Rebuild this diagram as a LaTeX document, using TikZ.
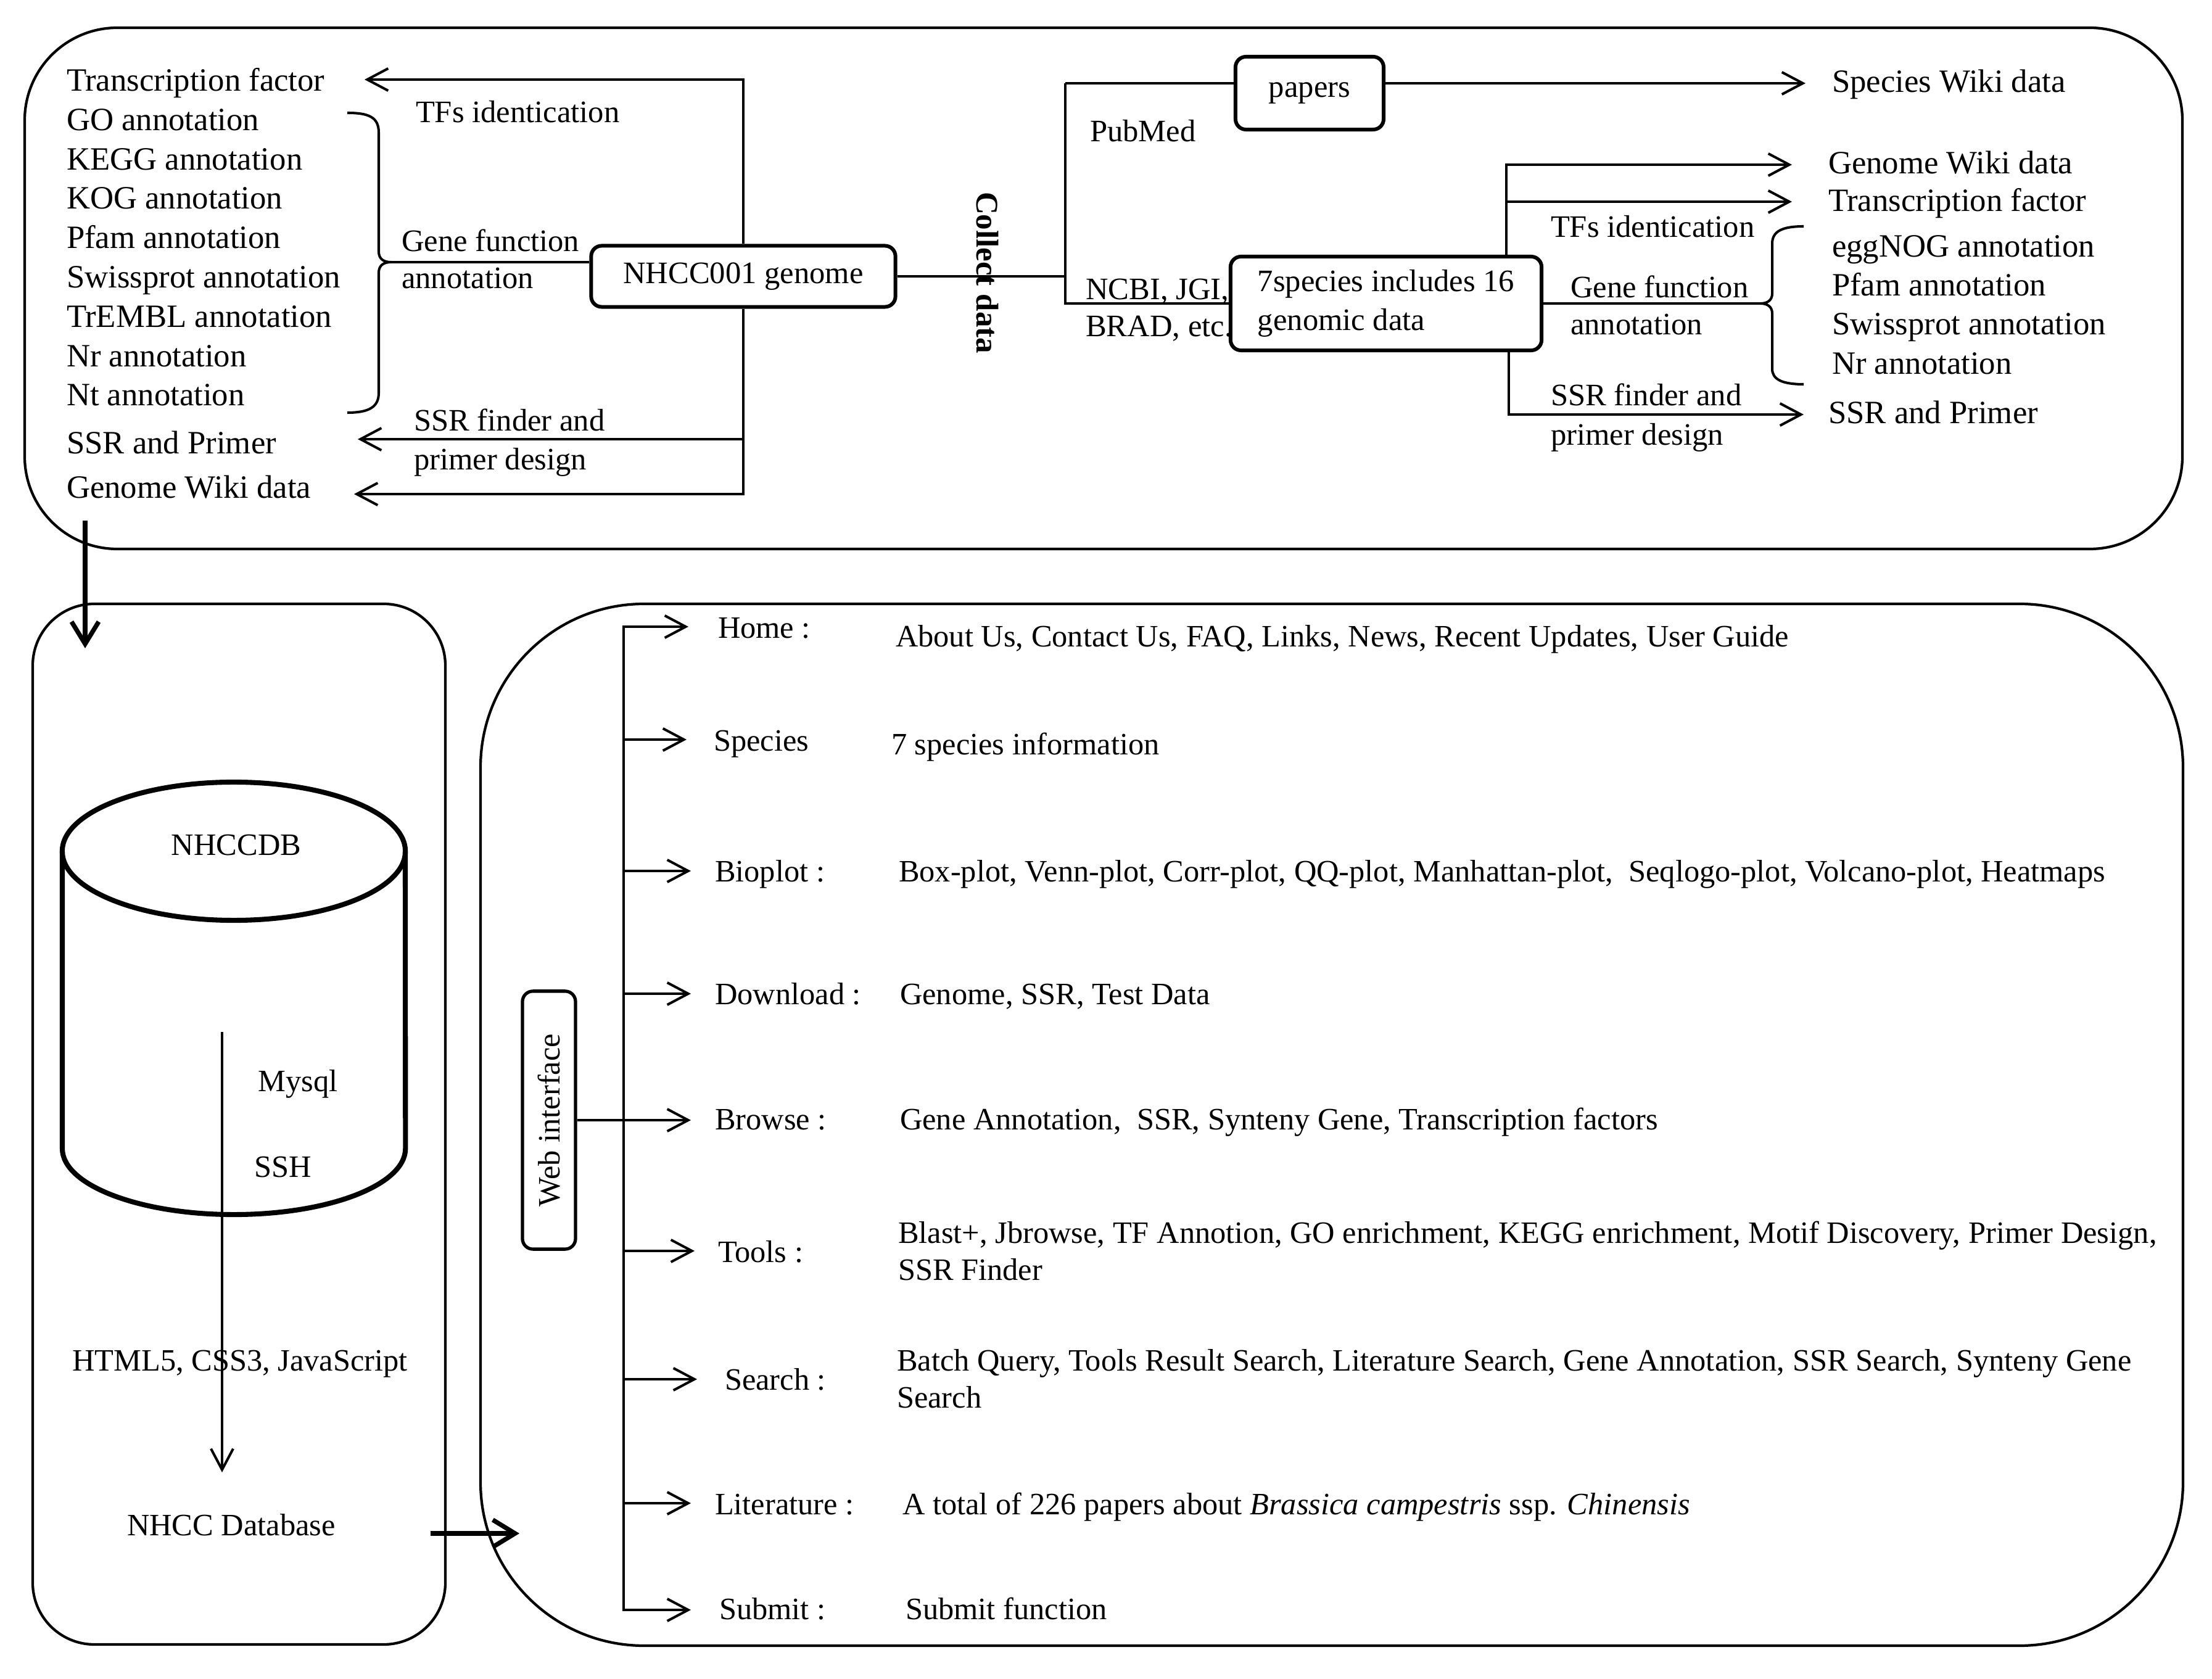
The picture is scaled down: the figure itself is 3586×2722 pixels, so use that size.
\documentclass[tikz,border=0pt]{standalone}
\usepackage{fontspec}
\setmainfont{Liberation Serif}
\usetikzlibrary{arrows.meta}
\begin{document}
\begin{tikzpicture}[x=0.01cm,y=-0.01cm,line width=1.15pt,
  lst/.style={anchor=base west,inner sep=0pt,yshift=-0.15cm,font=\fontsize{15pt}{17pt}\selectfont},
  lab/.style={anchor=base west,inner sep=0pt,yshift=-0.15cm,font=\fontsize{14.4pt}{17pt}\selectfont},
  low/.style={anchor=base west,inner sep=0pt,yshift=-0.15cm,font=\fontsize{14.35pt}{17pt}\selectfont},
  lowc/.style={low,anchor=base},
  ar/.style={-{Straight Barb[length=0.34cm,width=0.36cm,line width=1.15pt]}},
  thickar/.style={line width=2.1pt,-{Straight Barb[length=0.36cm,width=0.44cm,line width=2.1pt]}},
  rbox/.style={draw,line width=1.7pt,rounded corners=0.17cm,inner sep=0pt},
  frame/.style={draw,line width=1.2pt},
]
\useasboundingbox (0,0) rectangle (3586,2722);
\fill[white] (0,0) rectangle (3586,2722);

% ---------------- frames ----------------
\draw[frame,rounded corners=1.5cm] (40,45) rectangle (3538,890);
\draw[frame,rounded corners=1.0cm] (53,979) rectangle (722,2666);
\draw[frame,rounded corners=2.65cm] (779,979) rectangle (3539,2668);

% ---------------- top left ----------------
\node[lst] (l1) at (106,133) {Transcription factor};
\node[lst] (l2) at (106,197) {GO annotation};
\node[lst] (l3) at (106,261) {KEGG annotation};
\node[lst] (l4) at (106,324) {KOG annotation};
\node[lst] (l5) at (106,388) {Pfam annotation};
\node[lst] (l6) at (106,452) {Swissprot annotation};
\node[lst] (l7) at (106,516) {TrEMBL annotation};
\node[lst] (l8) at (106,580) {Nr annotation};
\node[lst] (l9) at (106,643) {Nt annotation};
\node[lst] (l10) at (106,720) {SSR and Primer};
\node[lst] (l11) at (106,792) {Genome Wiki data};

\node[lab] (tfsA) at (672,184) {TFs identication};
\node[lab] (gfA1) at (649,393) {Gene function};
\node[lab] (gfA2) at (649,453) {annotation};
\node[lab] (ssrA1) at (669,683) {SSR finder and};
\node[lab] (ssrA2) at (669,746) {primer design};

\draw (563,183) .. controls (598,183) and (614,190) .. (614,215) -- (614,408)
  .. controls (614,419) and (621,425) .. (634,425)
  .. controls (621,425) and (614,431) .. (614,442) -- (614,637)
  .. controls (614,660) and (598,669) .. (563,669);
\coordinate (braceL) at (634,425);

\node[rbox,minimum width=4.93cm,minimum height=0.99cm,font=\fontsize{14.4pt}{17pt}\selectfont] (nhcc) at (1205,448) {NHCC001 genome};

\coordinate (tfTip) at (591,129);
\coordinate (ssrTip) at (580,712);
\coordinate (gwTip) at (574,801);
\draw (braceL -| nhcc.west) -- (braceL);
\draw[ar] (nhcc.north) |- (tfTip);
\draw[ar] (nhcc.south) |- (gwTip);
\draw[ar] (ssrTip -| nhcc.south) -- (ssrTip);

% ---------------- collect data ----------------
\coordinate (pm) at (1727,135);
\draw (nhcc.east) -- (nhcc.east -| pm);
\node[rotate=-90,inner sep=0pt,font=\bfseries\fontsize{14.5pt}{17pt}\selectfont] (cd) at (1601,442) {Collect data};

\node[rbox,minimum width=2.40cm,minimum height=1.18cm,font=\fontsize{14.4pt}{17pt}\selectfont] (papers) at (2123,151) {papers};
\node[rbox,minimum width=5.04cm,minimum height=1.52cm,align=left,font=\fontsize{14.4pt}{18pt}\selectfont] (sp) at (2247,492) {7species includes 16\\genomic data};

\draw (pm) -- (pm -| papers.west);
\draw (pm) |- (sp.west);
\coordinate (swTip) at (2927,135);
\draw[ar] (papers.east |- pm) -- (swTip);

\node[lab] (pubmed) at (1765,215) {PubMed};
\node[lab] (ncbi) at (1758,471) {NCBI, JGI,};
\node[lab] (brad) at (1758,531) {BRAD, etc.};

% ---------------- top right ----------------
\node[lst] (r1) at (2968,135) {Species Wiki data};
\node[lst] (r2) at (2962,267) {Genome Wiki data};
\node[lst] (r3) at (2962,328) {Transcription factor};
\node[lst] (r4) at (2968,402) {eggNOG annotation};
\node[lst] (r5) at (2968,465) {Pfam annotation};
\node[lst] (r6) at (2968,528) {Swissprot annotation};
\node[lst] (r7) at (2968,591) {Nr annotation};
\node[lst] (r8) at (2962,672) {SSR and Primer};

\node[lab] (tfsB) at (2512,370) {TFs identication};
\node[lab] (gfB1) at (2544,468) {Gene function};
\node[lab] (gfB2) at (2544,528) {annotation};
\node[lab] (ssrB1) at (2512,643) {SSR finder and};
\node[lab] (ssrB2) at (2512,706) {primer design};

\coordinate (spTop) at (2442,416);
\coordinate (spBot) at (2446,568);
\coordinate (gw2Tip) at (2905,267);
\coordinate (tf2Tip) at (2905,327);
\coordinate (ssr2Tip) at (2924,672);
\draw[ar] (spTop) |- (gw2Tip);
\draw[ar] (spTop |- tf2Tip) -- (tf2Tip);
\draw[ar] (spBot) |- (ssr2Tip);

\coordinate (braceR) at (2854,492);
\draw (sp.east) -- (braceR);
\draw (2924,367) .. controls (2889,367) and (2873,375) .. (2873,395) -- (2873,476)
  .. controls (2873,486) and (2866,492) .. (2854,492)
  .. controls (2866,492) and (2873,498) .. (2873,508) -- (2873,598)
  .. controls (2873,615) and (2889,623) .. (2924,623);

% ---------------- down arrow ----------------
\coordinate (dnA) at (138,844);
\coordinate (dnB) at (138,1051);
\draw[thickar] (dnA) -- (dnB);

% ---------------- database ----------------
\draw[line width=2.3pt] (101,1380) -- (101,1862)
  arc[start angle=180,end angle=360,x radius=2.78cm,y radius=1.07cm] -- (657,1380);
\draw[line width=2.3pt] (379,1380) ellipse [x radius=2.78cm,y radius=1.12cm];

\node[lowc] (db) at (383,1371) {NHCCDB};
\node[lowc] (mysql) at (483,1754) {Mysql};
\node[lowc] (ssh) at (459,1893) {SSH};
\node[lowc] (html) at (389,2207) {HTML5, CSS3, JavaScript};
\node[lowc] (nhccdb) at (375,2474) {NHCC Database};

\coordinate (dbA) at (360,1673);
\coordinate (dbB) at (360,2387);
\draw[ar] (dbA) -- (dbB);

\coordinate (toWebA) at (698,2486);
\coordinate (toWebB) at (842,2486);
\draw[thickar] (toWebA) -- (toWebB);

% ---------------- web interface ----------------
\node[rbox,line width=1.5pt,minimum width=0.86cm,minimum height=4.18cm] (web) at (890,1816) {};
\node[rotate=90,inner sep=0pt,font=\fontsize{14.35pt}{17pt}\selectfont] (webtxt) at (web.center) {Web interface};

\coordinate (bTop) at (1011,1016);
\coordinate (bBot) at (1011,2610);
\coordinate (tHome) at (1116,1016);
\coordinate (tSpecies) at (1113,1199);
\coordinate (tBioplot) at (1120,1412);
\coordinate (tDownload) at (1120,1611);
\coordinate (tBrowse) at (1120,1816);
\coordinate (tTools) at (1126,2028);
\coordinate (tSearch) at (1130,2236);
\coordinate (tLit) at (1120,2437);
\coordinate (tSubmit) at (1120,2610);

\draw[ar] (bBot) -- (bTop) -- (tHome);
\draw[ar,line cap=rect] (bBot) -- (tSubmit);
\draw[ar] (bTop |- tSpecies) -- (tSpecies);
\draw[ar] (bTop |- tBioplot) -- (tBioplot);
\draw[ar] (bTop |- tDownload) -- (tDownload);
\draw[ar] (web.east) -- (tBrowse);
\draw[ar] (bTop |- tTools) -- (tTools);
\draw[ar] (bTop |- tSearch) -- (tSearch);
\draw[ar] (bTop |- tLit) -- (tLit);

\node[low] (home) at (1162,1019) {Home :};
\node[low] (species) at (1155,1202) {Species};
\node[low] (bioplot) at (1157,1414) {Bioplot :};
\node[low] (download) at (1157,1613) {Download :};
\node[low] (browse) at (1157,1816) {Browse :};
\node[low] (tools) at (1162,2031) {Tools :};
\node[low] (search) at (1173,2238) {Search :};
\node[low] (lit) at (1157,2440) {Literature :};
\node[low] (submit) at (1164,2610) {Submit :};

\node[low] (dHome) at (1450,1033) {About Us, Contact Us, FAQ, Links, News, Recent Updates, User Guide};
\node[low] (dSpecies) at (1443,1208) {7 species information};
\node[low] (dBioplot) at (1455,1414) {Box-plot, Venn-plot, Corr-plot, QQ-plot, Manhattan-plot,\ \ Seqlogo-plot, Volcano-plot, Heatmaps};
\node[low] (dDownload) at (1457,1613) {Genome, SSR, Test Data};
\node[low] (dBrowse) at (1457,1816) {Gene Annotation,\ \ SSR, Synteny Gene, Transcription factors};
\node[low] (dTools1) at (1454,2000) {Blast+, Jbrowse, TF Annotion, GO enrichment, KEGG enrichment, Motif Discovery, Primer Design,};
\node[low] (dTools2) at (1454,2060) {SSR Finder};
\node[low] (dSearch1) at (1452,2207) {Batch Query, Tools Result Search, Literature Search, Gene Annotation, SSR Search, Synteny Gene};
\node[low] (dSearch2) at (1452,2267) {Search};
\node[low] (dLit) at (1461,2440) {A total of 226 papers about \textit{Brassica campestris} ssp. \textit{Chinensis}};
\node[low] (dSubmit) at (1466,2610) {Submit function};
\end{tikzpicture}
\end{document}
